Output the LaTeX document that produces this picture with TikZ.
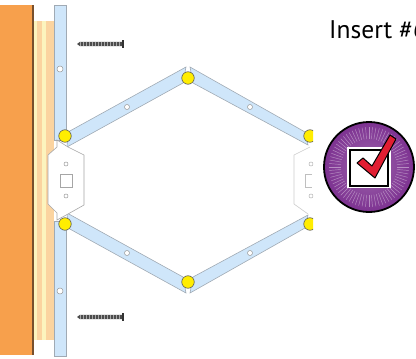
\documentclass[tikz,border=0pt]{standalone}
\usepackage{fontspec}
\setmainfont{PT Sans}
\definecolor{woodorange}{RGB}{247,160,76}
\definecolor{woodedge}{RGB}{120,80,45}
\definecolor{stripcream}{RGB}{252,244,190}
\definecolor{strippeach}{RGB}{251,212,160}
\definecolor{railblue}{RGB}{207,230,250}
\definecolor{railedge}{RGB}{160,170,180}
\definecolor{badgepurple}{RGB}{125,50,145}
\definecolor{checkred}{RGB}{225,30,50}
\usetikzlibrary{arrows}

\begin{document}
\begin{tikzpicture}[x=1pt,y=-1pt]
\tikzstyle{every node}=[minimum width=0pt, inner sep=0pt, circle]
\tikzstyle{joint}=[draw=gray!70!black, fill=yellow!95!orange, line width=.6pt, minimum width=12.5pt]
\tikzstyle{hole}=[draw=gray!80, fill=white, line width=.5pt, minimum width=5pt]
\tikzstyle{rail}=[fill=railblue, draw=railedge, line width=.6pt]
\tikzstyle{bracket}=[fill=white, draw=gray!70, line width=.6pt]
\useasboundingbox (0,0) rectangle (416,359);
% wall
\fill[woodorange] (0,5) rectangle (32,355);
\fill[woodedge] (32,5) rectangle (33.5,355);
\fill[stripcream] (33.5,21) rectangle (54,340);
\fill[strippeach] (37,21) rectangle (42,340);
\fill[strippeach] (46,21) rectangle (54,340);
% rails and arms
\draw[rail] (54,5) rectangle (66,140);
\draw[rail] (54,221) rectangle (66,356);
\draw[rail] (68,132) -- (186,67) -- (183,83) -- (67,147) -- cycle;
\draw[rail] (190,67) -- (305,132) -- (308,145) -- (193,83) -- cycle;
\draw[rail] (68,228) -- (186,293) -- (183,277) -- (67,213) -- cycle;
\draw[rail] (190,293) -- (305,228) -- (308,215) -- (193,277) -- cycle;
% left bracket
\draw[bracket] (57,140) -- (68,147) -- (84,155) -- (84,205) -- (68,214) -- (57,220) -- (57,213) -- (48,204) -- (48,155) -- (57,147) -- cycle;
\draw[draw=gray!70, fill=white, line width=.5pt] (60,174) rectangle (72,187);
% right bracket and joints, cut off at the edge
\begin{scope}
\clip (280,100) rectangle (313,260);
\draw[draw=gray!40, fill=white, line width=.6pt] (310,147) -- (294,155) -- (294,204) -- (308,214);
\draw[draw=gray!50, line width=.5pt] (312,174) -- (305,174) -- (305,187) -- (312,187);
\draw (311,164) node (h7) [hole, draw=gray!60, minimum width=4pt] {};
\draw (311,196) node (h8) [hole, draw=gray!60, minimum width=4pt] {};
\draw (310,136) node (j5) [joint] {};
\draw (310,224) node (j6) [joint] {};
\end{scope}
% holes
\draw (60,69) node (h1) [hole, minimum width=6pt] {};
\draw (60,291) node (h2) [hole, minimum width=6pt] {};
\draw (127,107) node (h3) [hole] {};
\draw (250,107) node (h4) [hole] {};
\draw (127,253) node (h5) [hole] {};
\draw (250,253) node (h6) [hole] {};
\draw (66,164) node (h9) [hole, minimum width=4pt] {};
\draw (66,196) node (h10) [hole, minimum width=4pt] {};
% joints
\draw (65,136) node (j1) [joint] {};
\draw (65,224) node (j2) [joint] {};
\draw (188,78) node (j3) [joint] {};
\draw (188,282) node (j4) [joint] {};
% screws
\foreach \y in {44,317} {
\fill[black!70] (77,\y) -- (80,\y-2.2) -- (122,\y-2.2) -- (122,\y+2.2) -- (80,\y+2.2) -- cycle;
\fill[black!80] (122,\y-4) -- (124,\y-4) -- (124,\y+4) -- (122,\y+4) -- cycle;
\foreach \x in {80,83,...,120} \draw[gray!70, line width=.3pt] (\x,\y-2.2) -- (\x,\y+2.2);
}
% badge
\draw (369,167) node (badge) [draw=black, inner color=badgepurple!75!white, outer color=badgepurple, line width=1.8pt, minimum width=90pt] {};
\foreach \a in {0,5,...,355} \draw[white!45!badgepurple, line width=.45pt] (badge.center) ++(\a:28) -- ++(\a:12);
\fill[white] (347,147) rectangle (391,188);
\draw[black, fill=white, line width=1.5pt] (350,150) rectangle (388,186);
\draw[fill=checkred, draw=black, line width=1pt, line join=round] (357,163) -- (363,158) -- (372,166) -- (390,135) -- (396,139) -- (375,178) -- cycle;
% label
\draw (329,38) node (title) [anchor=base west, rectangle, font=\fontsize{25.5}{25.5}\selectfont] {Insert \#6};
\end{tikzpicture}
\end{document}
